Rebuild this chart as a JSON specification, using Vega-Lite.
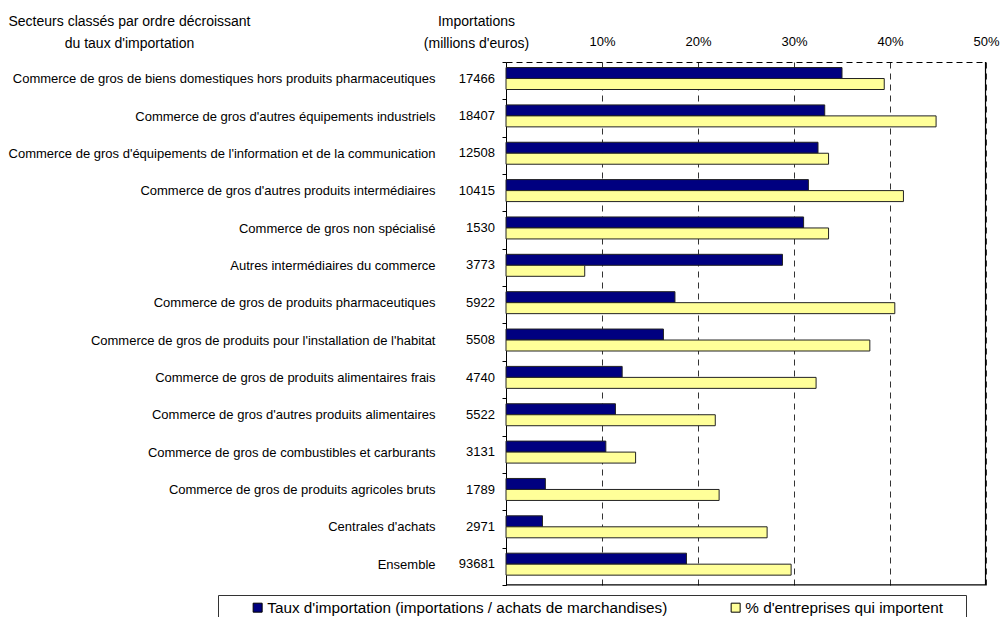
{
  "$schema": "https://vega.github.io/schema/vega-lite/v6.json",
  "autosize": {"type": "none"},
  "padding": {"left": 506, "top": 62, "right": 15, "bottom": 32},
  "width": 480,
  "height": 523,
  "background": "white",
  "config": {
    "font": "Liberation Sans",
    "view": {"stroke": null},
    "axis": {"labelColor": "black", "titleColor": "black", "titleFontWeight": "normal"}
  },
  "datasets": {
    "bars": [
      {"secteur": "Commerce de gros de biens domestiques hors produits pharmaceutiques", "serie": "Taux d'importation (importations / achats de marchandises)", "valeur": 0.350},
      {"secteur": "Commerce de gros de biens domestiques hors produits pharmaceutiques", "serie": "% d'entreprises qui importent", "valeur": 0.394},
      {"secteur": "Commerce de gros d'autres équipements industriels", "serie": "Taux d'importation (importations / achats de marchandises)", "valeur": 0.332},
      {"secteur": "Commerce de gros d'autres équipements industriels", "serie": "% d'entreprises qui importent", "valeur": 0.448},
      {"secteur": "Commerce de gros d'équipements de l'information et de la communication", "serie": "Taux d'importation (importations / achats de marchandises)", "valeur": 0.325},
      {"secteur": "Commerce de gros d'équipements de l'information et de la communication", "serie": "% d'entreprises qui importent", "valeur": 0.336},
      {"secteur": "Commerce de gros d'autres produits intermédiaires", "serie": "Taux d'importation (importations / achats de marchandises)", "valeur": 0.315},
      {"secteur": "Commerce de gros d'autres produits intermédiaires", "serie": "% d'entreprises qui importent", "valeur": 0.414},
      {"secteur": "Commerce de gros non spécialisé", "serie": "Taux d'importation (importations / achats de marchandises)", "valeur": 0.310},
      {"secteur": "Commerce de gros non spécialisé", "serie": "% d'entreprises qui importent", "valeur": 0.336},
      {"secteur": "Autres intermédiaires du commerce", "serie": "Taux d'importation (importations / achats de marchandises)", "valeur": 0.288},
      {"secteur": "Autres intermédiaires du commerce", "serie": "% d'entreprises qui importent", "valeur": 0.082},
      {"secteur": "Commerce de gros de produits pharmaceutiques", "serie": "Taux d'importation (importations / achats de marchandises)", "valeur": 0.176},
      {"secteur": "Commerce de gros de produits pharmaceutiques", "serie": "% d'entreprises qui importent", "valeur": 0.405},
      {"secteur": "Commerce de gros de produits pour l'installation de l'habitat", "serie": "Taux d'importation (importations / achats de marchandises)", "valeur": 0.164},
      {"secteur": "Commerce de gros de produits pour l'installation de l'habitat", "serie": "% d'entreprises qui importent", "valeur": 0.379},
      {"secteur": "Commerce de gros de produits alimentaires frais", "serie": "Taux d'importation (importations / achats de marchandises)", "valeur": 0.121},
      {"secteur": "Commerce de gros de produits alimentaires frais", "serie": "% d'entreprises qui importent", "valeur": 0.323},
      {"secteur": "Commerce de gros d'autres produits alimentaires", "serie": "Taux d'importation (importations / achats de marchandises)", "valeur": 0.114},
      {"secteur": "Commerce de gros d'autres produits alimentaires", "serie": "% d'entreprises qui importent", "valeur": 0.218},
      {"secteur": "Commerce de gros de combustibles et carburants", "serie": "Taux d'importation (importations / achats de marchandises)", "valeur": 0.104},
      {"secteur": "Commerce de gros de combustibles et carburants", "serie": "% d'entreprises qui importent", "valeur": 0.135},
      {"secteur": "Commerce de gros de produits agricoles bruts", "serie": "Taux d'importation (importations / achats de marchandises)", "valeur": 0.041},
      {"secteur": "Commerce de gros de produits agricoles bruts", "serie": "% d'entreprises qui importent", "valeur": 0.222},
      {"secteur": "Centrales d'achats", "serie": "Taux d'importation (importations / achats de marchandises)", "valeur": 0.038},
      {"secteur": "Centrales d'achats", "serie": "% d'entreprises qui importent", "valeur": 0.272},
      {"secteur": "Ensemble", "serie": "Taux d'importation (importations / achats de marchandises)", "valeur": 0.188},
      {"secteur": "Ensemble", "serie": "% d'entreprises qui importent", "valeur": 0.297}
    ],
    "imports": [
      {"secteur": "Commerce de gros de biens domestiques hors produits pharmaceutiques", "importations": 17466},
      {"secteur": "Commerce de gros d'autres équipements industriels", "importations": 18407},
      {"secteur": "Commerce de gros d'équipements de l'information et de la communication", "importations": 12508},
      {"secteur": "Commerce de gros d'autres produits intermédiaires", "importations": 10415},
      {"secteur": "Commerce de gros non spécialisé", "importations": 1530},
      {"secteur": "Autres intermédiaires du commerce", "importations": 3773},
      {"secteur": "Commerce de gros de produits pharmaceutiques", "importations": 5922},
      {"secteur": "Commerce de gros de produits pour l'installation de l'habitat", "importations": 5508},
      {"secteur": "Commerce de gros de produits alimentaires frais", "importations": 4740},
      {"secteur": "Commerce de gros d'autres produits alimentaires", "importations": 5522},
      {"secteur": "Commerce de gros de combustibles et carburants", "importations": 3131},
      {"secteur": "Commerce de gros de produits agricoles bruts", "importations": 1789},
      {"secteur": "Centrales d'achats", "importations": 2971},
      {"secteur": "Ensemble", "importations": 93681}
    ]
  },
  "layer": [
    {
      "data": {"name": "bars"},
      "mark": {"type": "bar", "stroke": "#222", "strokeWidth": 1},
      "encoding": {
        "y": {
          "field": "secteur",
          "type": "nominal",
          "scale": {
            "domain": [
              "Commerce de gros de biens domestiques hors produits pharmaceutiques",
              "Commerce de gros d'autres équipements industriels",
              "Commerce de gros d'équipements de l'information et de la communication",
              "Commerce de gros d'autres produits intermédiaires",
              "Commerce de gros non spécialisé",
              "Autres intermédiaires du commerce",
              "Commerce de gros de produits pharmaceutiques",
              "Commerce de gros de produits pour l'installation de l'habitat",
              "Commerce de gros de produits alimentaires frais",
              "Commerce de gros d'autres produits alimentaires",
              "Commerce de gros de combustibles et carburants",
              "Commerce de gros de produits agricoles bruts",
              "Centrales d'achats",
              "Ensemble"
            ],
            "paddingInner": 0,
            "paddingOuter": 0
          },
          "axis": {
            "orient": "left",
            "title": ["Secteurs classés par ordre décroissant", "du taux d'importation"],
            "titleFontSize": 14,
            "titleAngle": 0,
            "titleAlign": "center",
            "titleBaseline": "alphabetic",
            "titleX": -377,
            "titleY": -37,
            "titleLineHeight": 22,
            "labelFontSize": 13,
            "labelPadding": 67,
            "labelLimit": 600,
            "labelOffset": -2,
            "domain": true,
            "domainColor": "black",
            "ticks": true,
            "tickSize": 4,
            "tickColor": "black",
            "tickBand": "extent",
            "grid": false
          }
        },
        "yOffset": {
          "field": "serie",
          "type": "nominal",
          "scale": {
            "domain": ["Taux d'importation (importations / achats de marchandises)", "% d'entreprises qui importent"],
            "paddingInner": 0,
            "paddingOuter": 0.7,
            "align": 0.36
          }
        },
        "x": {
          "field": "valeur",
          "type": "quantitative",
          "scale": {"domain": [0, 0.5], "nice": false},
          "axis": {
            "orient": "top",
            "values": [0, 0.1, 0.2, 0.3, 0.4, 0.5],
            "labelExpr": "datum.value == 0 ? '' : format(datum.value, '.0%')",
            "labelFontSize": 13,
            "labelPadding": 14,
            "labelFlush": false,
            "ticks": false,
            "domain": true,
            "domainColor": "black",
            "domainDash": [6, 4],
            "grid": true,
            "gridColor": "#333",
            "gridDash": [6, 5],
            "gridWidth": 1,
            "title": ["Importations", "(millions d'euros)"],
            "titleFontSize": 14,
            "titleAngle": 0,
            "titleAlign": "center",
            "titleBaseline": "alphabetic",
            "titleX": -30,
            "titleY": -37,
            "titleLineHeight": 22
          }
        },
        "color": {
          "field": "serie",
          "type": "nominal",
          "scale": {
            "domain": ["Taux d'importation (importations / achats de marchandises)", "% d'entreprises qui importent"],
            "range": ["#000080", "#FFFF99"]
          },
          "legend": {
            "title": " ",
            "titleOrient": "right",
            "titlePadding": 18,
            "orient": "none",
            "legendX": -288,
            "legendY": 533,
            "direction": "horizontal",
            "fillColor": "white",
            "strokeColor": "#333",
            "padding": 5,
            "symbolType": "square",
            "symbolSize": 81,
            "symbolStrokeColor": "black",
            "symbolStrokeWidth": 1,
            "symbolOffset": 27,
            "labelFontSize": 15.3,
            "labelColor": "black",
            "labelOffset": 2,
            "labelLimit": 600,
            "columnPadding": 33
          }
        }
      }
    },
    {
      "data": {"name": "imports"},
      "mark": {"type": "text", "align": "right", "baseline": "middle", "dx": -11, "dy": -2, "fontSize": 13, "color": "black"},
      "encoding": {
        "y": {"field": "secteur", "type": "nominal"},
        "x": {"datum": 0, "type": "quantitative"},
        "text": {"field": "importations", "type": "quantitative", "format": "d"}
      }
    },
    {
      "data": {"name": "imports"},
      "transform": [{"filter": "datum.secteur === 'Ensemble'"}],
      "mark": {"type": "rule", "color": "black", "strokeWidth": 1.2, "clip": false},
      "encoding": {
        "x": {"datum": 0.4995, "type": "quantitative"}
      }
    },
    {
      "data": {"name": "imports"},
      "transform": [{"filter": "datum.secteur === 'Ensemble'"}],
      "mark": {"type": "rule", "color": "black", "strokeWidth": 1.2, "clip": false},
      "encoding": {
        "y": {"field": "secteur", "type": "nominal", "bandPosition": 0.999}
      }
    }
  ]
}
